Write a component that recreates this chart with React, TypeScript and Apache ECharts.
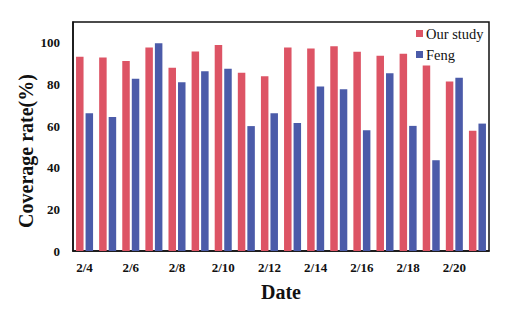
import React, { useEffect, useRef } from "react";
import * as echarts from "echarts";

const categories = ["2/4","2/5","2/6","2/7","2/8","2/9","2/10","2/11","2/12","2/13","2/14","2/15","2/16","2/17","2/18","2/19","2/20","2/21"];
const ourStudy = [93.3, 92.9, 91.3, 97.8, 88.0, 95.8, 98.9, 85.6, 84.0, 97.8, 97.3, 98.4, 95.7, 93.8, 94.7, 89.1, 81.4, 57.8];
const feng = [66.2, 64.4, 82.8, 99.8, 81.1, 86.4, 87.6, 60.0, 66.2, 61.5, 79.0, 77.7, 58.0, 85.4, 60.1, 43.6, 83.2, 61.2];
const seriesNames = ["Our study", "Feng"];
const yTicks = [0, 20, 40, 60, 80, 100];

export default function App() {
  const ref = useRef<HTMLDivElement>(null);
  useEffect(() => {
    if (!ref.current) return;
    const chart = echarts.init(ref.current, null, { renderer: "svg" });
    const font = "'Liberation Serif', 'Times New Roman', serif";
    chart.setOption({
      animation: false,
      backgroundColor: "#fff",
      textStyle: { fontFamily: font },
      grid: {
        left: 73, right: 25, top: 22, bottom: 61,
        show: true, borderColor: "#111", borderWidth: 1.5,
      },
      legend: {
        data: seriesNames,
        orient: "vertical",
        left: 411,
        top: 21,
        itemWidth: 7,
        itemHeight: 7,
        itemGap: 6,
        icon: "rect",
        textStyle: { fontFamily: font, fontSize: 14.5, color: "#111", padding: [0, 0, 0, -2] },
      },
      xAxis: {
        type: "category",
        data: categories,
        name: "Date",
        nameLocation: "middle",
        nameGap: 31,
        nameTextStyle: { fontFamily: font, fontSize: 20, fontWeight: "bold", color: "#111" },
        axisLine: { lineStyle: { color: "#111", width: 1.5 } },
        axisTick: { show: false },
        axisLabel: {
          interval: 1,
          margin: 10,
          fontFamily: font,
          fontSize: 13,
          fontWeight: "bold",
          color: "#111",
        },
      },
      yAxis: {
        type: "value",
        min: 0,
        max: 110,
        interval: 20,
        axisLine: { show: true, lineStyle: { color: "#111", width: 1.5 } },
        axisTick: { show: false },
        splitLine: { show: false },
        axisLabel: {
          margin: 13,
          fontFamily: font,
          fontSize: 13,
          fontWeight: "bold",
          color: "#111",
          formatter: (v: number) => (yTicks.includes(v) ? String(v) : ""),
        },
      },
      graphic: [
        {
          type: "text",
          x: 26,
          y: 151,
          rotation: Math.PI / 2,
          style: {
            text: "Coverage rate(%)",
            fontFamily: font,
            fontSize: 20,
            fontWeight: "bold",
            fill: "#111",
            align: "center",
            verticalAlign: "middle",
          },
        },
      ],
      series: [
        {
          name: seriesNames[0],
          type: "bar",
          data: ourStudy,
          barWidth: 7.5,
          barGap: "27%",
          itemStyle: { color: "#DD5465" },
        },
        {
          name: seriesNames[1],
          type: "bar",
          data: feng,
          barWidth: 7.5,
          barGap: "27%",
          itemStyle: { color: "#4B5BA9" },
        },
      ],
    });
    return () => chart.dispose();
  }, []);
  return <div ref={ref} style={{ position: "fixed", left: 0, top: 0, width: 514, height: 312 }} />;
}
